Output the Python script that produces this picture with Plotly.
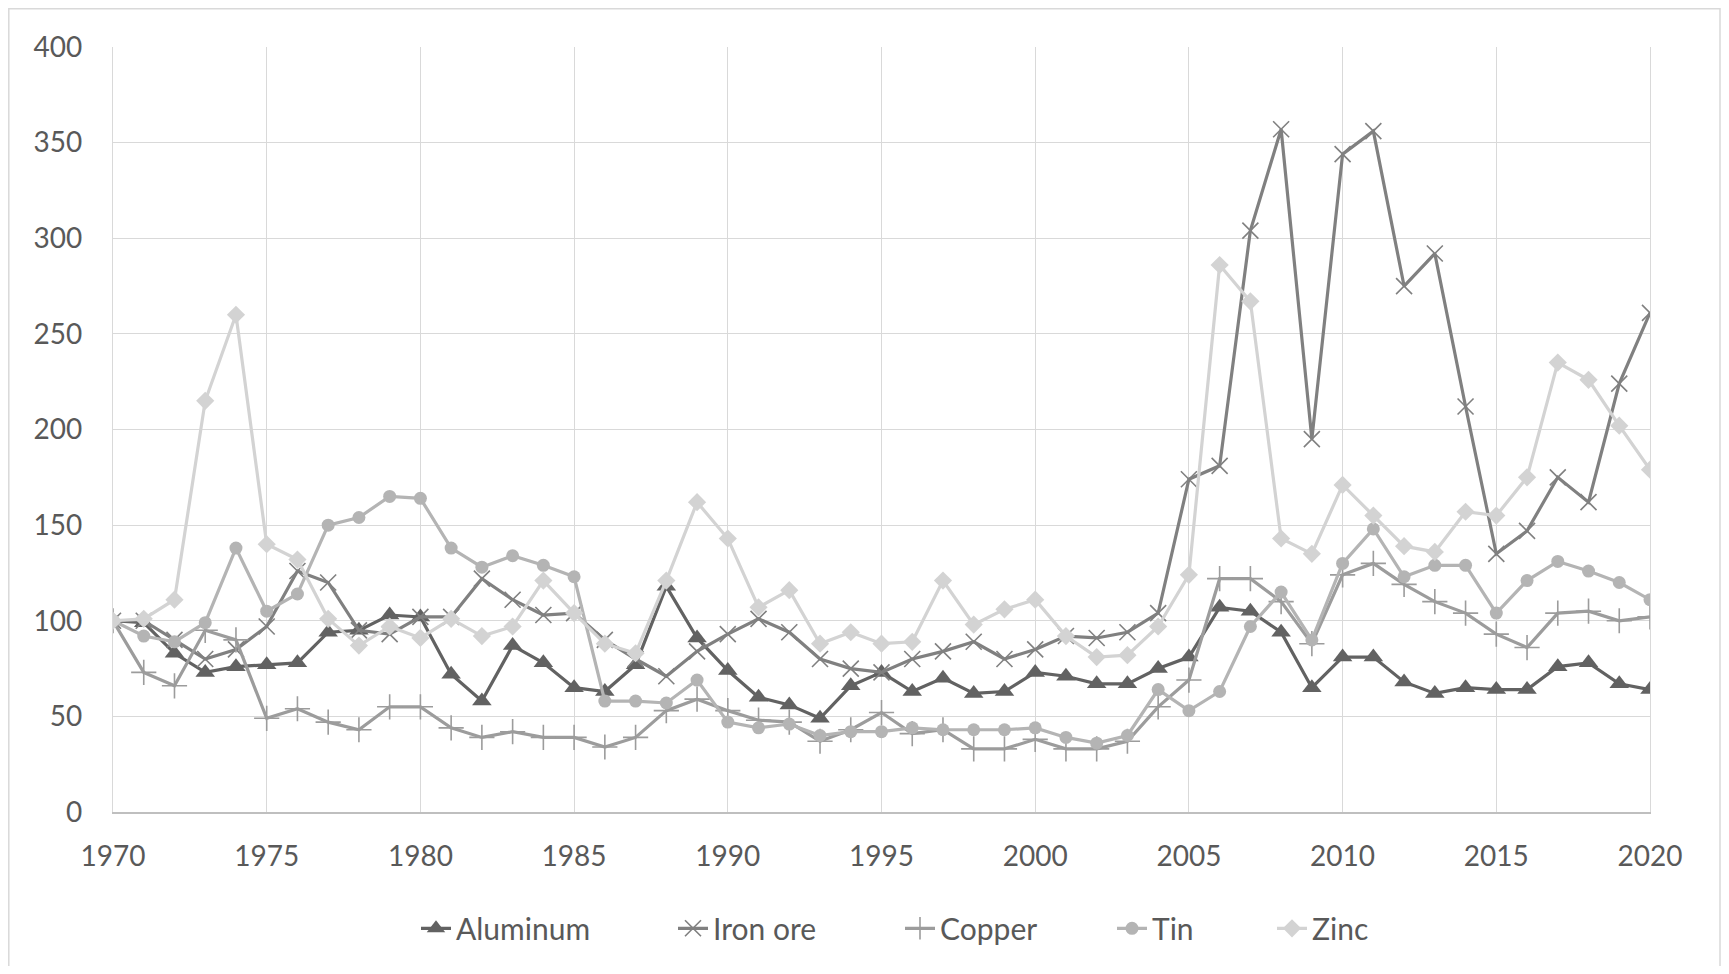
import plotly.graph_objects as go

years = list(range(1970, 2021))

aluminum = [100, 99, 83, 73, 76, 77, 78, 94, 95, 103,
            102, 72, 58, 87, 78, 65, 63, 77, 118, 91,
            74, 60, 56, 49, 66, 73, 63, 70, 62, 63,
            73, 71, 67, 67, 75, 81, 107, 105, 94, 65,
            81, 81, 68, 62, 65, 64, 64, 76, 78, 67,
            64]
iron_ore = [100, 100, 90, 80, 85, 97, 126, 120, 95, 93,
            102, 102, 122, 111, 103, 104, 90, 80, 71, 84,
            93, 101, 94, 80, 75, 73, 80, 84, 89, 80,
            85, 92, 91, 94, 104, 174, 181, 304, 357, 195,
            344, 356, 275, 292, 212, 135, 147, 175, 162, 224,
            261]
copper = [100, 73, 66, 95, 90, 49, 54, 47, 43, 55,
          55, 44, 39, 42, 39, 39, 34, 39, 53, 59,
          53, 48, 47, 37, 43, 52, 41, 43, 33, 33,
          38, 33, 33, 37, 55, 69, 122, 122, 110, 88,
          124, 130, 119, 110, 104, 93, 86, 104, 105, 100,
          102]
tin = [100, 92, 89, 99, 138, 105, 114, 150, 154, 165,
       164, 138, 128, 134, 129, 123, 58, 58, 57, 69,
       47, 44, 46, 40, 42, 42, 44, 43, 43, 43,
       44, 39, 36, 40, 64, 53, 63, 97, 115, 90,
       130, 148, 123, 129, 129, 104, 121, 131, 126, 120,
       111]
zinc = [100, 101, 111, 215, 260, 140, 132, 101, 87, 97,
        91, 101, 92, 97, 121, 104, 88, 83, 121, 162,
        143, 107, 116, 88, 94, 88, 89, 121, 98, 106,
        111, 92, 81, 82, 97, 124, 286, 267, 143, 135,
        171, 155, 139, 136, 157, 155, 175, 235, 226, 202,
        179]

series_names = ["Aluminum", "Iron ore", "Copper", "Tin", "Zinc"]
series_values = [aluminum, iron_ore, copper, tin, zinc]
colors = ["#626262", "#808080", "#9c9c9c", "#b4b4b4", "#d3d3d3"]
symbols = ["triangle-up", "x-thin", "cross-thin", "circle", "diamond"]
sizes = [17, 16, 18, 13, 14]
legend_widths = [212, 182, 167, 115, 70]

FONT = "Lato, Carlito, 'Open Sans', sans-serif"
TXT = "#595959"

fig = go.Figure()
for name, vals, col, sym, sz, lw in zip(series_names, series_values, colors,
                                        symbols, sizes, legend_widths):
    thin = sym.endswith("-thin")
    fig.add_trace(go.Scatter(
        x=years, y=vals, name=name, mode="lines+markers",
        line=dict(color=col, width=3.2),
        marker=dict(symbol=sym, size=sz, color=col,
                    line=dict(color=col, width=1.6 if thin else 0)),
        legendwidth=lw,
    ))

# page has 8px body margin -> figure 1713x958
W, H = 1713, 958
L, R, T, B = 105, 71, 39, 154
pw, ph = W - L - R, H - T - B

fig.update_layout(
    width=W, height=H,
    margin=dict(l=L, r=R, t=T, b=B),
    paper_bgcolor="white", plot_bgcolor="white",
    font=dict(family=FONT, size=28, color=TXT),
    showlegend=True,
    legend=dict(orientation="h", x=(408 - L) / pw, xanchor="left",
                y=-0.152, yanchor="middle",
                font=dict(family=FONT, size=30, color=TXT),
                bgcolor="rgba(0,0,0,0)"),
    xaxis=dict(range=[1970, 2020], dtick=5, tick0=1970,
               showgrid=True, gridcolor="#d9d9d9", gridwidth=1.3,
               showline=True, linecolor="#bfbfbf", linewidth=1.5,
               zeroline=False, ticks="", ticklabelstandoff=19,
               tickfont=dict(family=FONT, size=28, color=TXT)),
    yaxis=dict(range=[0, 400], dtick=50, tick0=0,
               showgrid=True, gridcolor="#d9d9d9", gridwidth=1.3,
               showline=True, mirror=True, linecolor="#d9d9d9", linewidth=1.3,
               zeroline=False, ticks="", ticklabelstandoff=24,
               tickfont=dict(family=FONT, size=28, color=TXT)),
    shapes=[dict(type="rect", xref="paper", yref="paper",
                 x0=(0.8 - L) / pw, x1=(W - 1 - L) / pw,
                 y0=(ph - (H + 5 - T)) / ph, y1=(ph + T - 0.8) / ph,
                 line=dict(color="#d9d9d9", width=1.5), layer="below")],
)

fig.write_html("out.html")
